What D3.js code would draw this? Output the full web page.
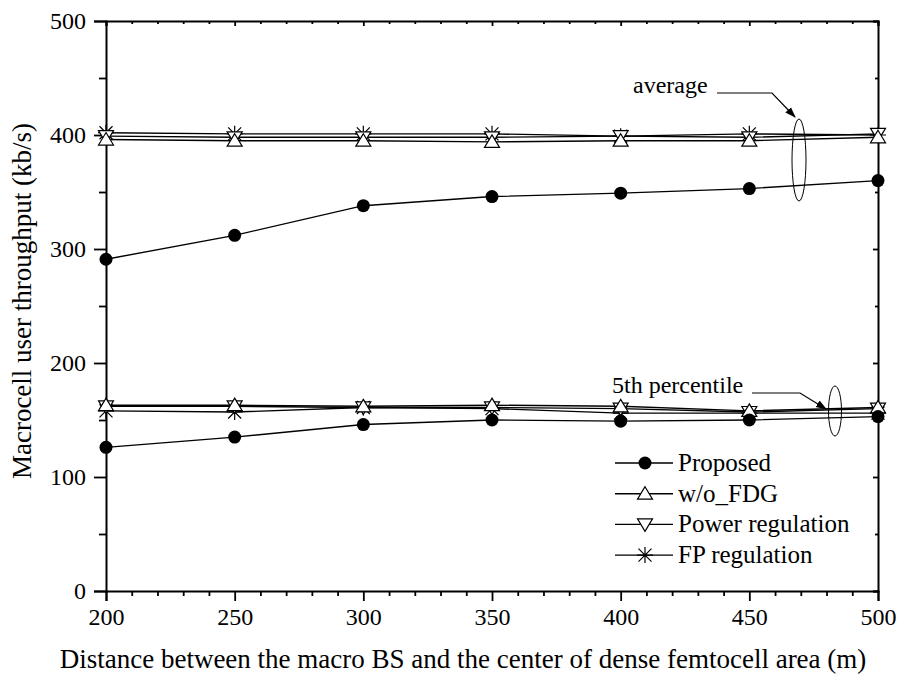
<!DOCTYPE html>
<html>
<head>
<meta charset="utf-8">
<script src="https://cdn.jsdelivr.net/npm/d3@7"></script>
<style>
  body { margin: 0; background: #fff; }
  text { font-family: "Liberation Serif", "Times New Roman", serif; fill: #000; }
</style>
</head>
<body>
<div id="chart"></div>
<script>
// distances (m)
const distances = [200, 250, 300, 350, 400, 450, 500];

// average throughput (kb/s)
const avgProposed = [291, 312, 338, 346, 349, 353, 360];
const avgWoFDG = [396, 395, 395, 394, 395, 395, 398];
const avgPower = [399, 398, 398, 398, 399, 398, 401];
const avgFP = [402, 401, 401, 401, 399, 401, 400];

// 5th percentile throughput (kb/s)
const p5Proposed = [126, 135, 146, 150, 149, 150, 153];
const p5WoFDG = [163, 163, 162, 163, 162, 158, 161];
const p5Power = [162, 162, 161, 161, 160, 157, 160];
const p5FP = [158, 157, 161, 160, 156, 156, 156];

const xTicks = [200, 250, 300, 350, 400, 450, 500];
const yTicks = [0, 100, 200, 300, 400, 500];

const seriesNames = ["Proposed", "w/o_FDG", "Power regulation", "FP regulation"];
const markerKinds = ["circle", "up", "down", "star"];

const margin = { top: 21, right: 34, bottom: 90, left: 106 },
    width = 912 - margin.left - margin.right,
    height = 681 - margin.top - margin.bottom;

const svg = d3.select("#chart").append("svg")
    .attr("width", 912)
    .attr("height", 681)
    .append("g")
    .attr("transform", "translate(" + margin.left + "," + margin.top + ")");

const x = d3.scaleLinear().domain([200, 500]).range([0, width]);
const y = d3.scaleLinear().domain([0, 500]).range([height, 0]);

// minor ticks
const xMinor = d3.range(200, 501, 10).filter(v => v % 50 !== 0);
const yMinor = d3.range(50, 500, 100);

// bottom axis
svg.append("g")
    .attr("transform", "translate(0," + height + ")")
    .call(d3.axisBottom(x).tickValues(xTicks).tickSize(10).tickPadding(7).tickFormat(d3.format("d")));
svg.append("g")
    .attr("transform", "translate(0," + height + ")")
    .call(d3.axisBottom(x).tickValues(xMinor).tickSize(5).tickFormat(""))
    .select(".domain").remove();

// left axis
svg.append("g")
    .call(d3.axisLeft(y).tickValues(yTicks).tickSize(12).tickPadding(8));
svg.append("g")
    .call(d3.axisLeft(y).tickValues(yMinor).tickSize(7).tickFormat(""))
    .select(".domain").remove();

// top and right axes, ticks inward
svg.append("g")
    .call(d3.axisTop(x).tickValues(xTicks).tickSize(-5).tickFormat(""));
svg.append("g")
    .call(d3.axisTop(x).tickValues(xMinor).tickSize(-3).tickFormat(""))
    .select(".domain").remove();
svg.append("g")
    .attr("transform", "translate(" + width + ",0)")
    .call(d3.axisRight(y).tickValues(yTicks).tickSize(-5).tickFormat(""));
svg.append("g")
    .attr("transform", "translate(" + width + ",0)")
    .call(d3.axisRight(y).tickValues(yMinor).tickSize(-3).tickFormat(""))
    .select(".domain").remove();

svg.selectAll(".domain").attr("stroke", "#000").attr("stroke-width", 2);
svg.selectAll(".tick line").attr("stroke", "#000").attr("stroke-width", 1.8);
svg.selectAll(".tick text").style("font-size", "24px").style("font-family", "Liberation Serif");

// axis titles
svg.append("text")
    .attr("transform", "rotate(-90)")
    .attr("x", -height / 2 + 5)
    .attr("y", -75)
    .style("text-anchor", "middle")
    .style("font-size", "27px")
    .text("Macrocell user throughput (kb/s)");

svg.append("text")
    .attr("x", width / 2 - 29)
    .attr("y", height + 77)
    .style("text-anchor", "middle")
    .style("font-size", "27px")
    .text("Distance between the macro BS and the center of dense femtocell area (m)");

// marker drawing
function drawMarker(g, kind, cx, cy) {
    if (kind === "circle") {
        g.append("circle").attr("cx", cx).attr("cy", cy).attr("r", 6.5).attr("fill", "#000");
    } else if (kind === "up") {
        g.append("path")
            .attr("d", `M${cx},${cy - 7}L${cx + 7.5},${cy + 5.5}L${cx - 7.5},${cy + 5.5}Z`)
            .attr("fill", "#fff").attr("stroke", "#000").attr("stroke-width", 1.2);
    } else if (kind === "down") {
        g.append("path")
            .attr("d", `M${cx},${cy + 7}L${cx + 7.5},${cy - 5.5}L${cx - 7.5},${cy - 5.5}Z`)
            .attr("fill", "#fff").attr("stroke", "#000").attr("stroke-width", 1.2);
    } else {
        g.append("path")
            .attr("d", `M${cx},${cy - 8}L${cx},${cy + 8}M${cx - 6.5},${cy - 6.5}L${cx + 6.5},${cy + 6.5}M${cx - 6.5},${cy + 6.5}L${cx + 6.5},${cy - 6.5}M${cx - 8},${cy}L${cx + 8},${cy}`)
            .attr("fill", "none").attr("stroke", "#000").attr("stroke-width", 1.2);
    }
}

const line = d3.line()
    .x((d, i) => x(distances[i]))
    .y(d => y(d));

const groups = [
    [avgProposed, avgWoFDG, avgPower, avgFP],
    [p5Proposed, p5WoFDG, p5Power, p5FP]
];

groups.forEach(set => {
    set.forEach(values => {
        svg.append("path")
            .datum(values)
            .attr("d", line)
            .attr("fill", "none")
            .attr("stroke", "#000")
            .attr("stroke-width", 1.4);
    });
});

// markers drawn in reverse so circles stay on top
groups.forEach(set => {
    [3, 2, 1, 0].forEach(k => {
        const g = svg.append("g");
        set[k].forEach((v, i) => drawMarker(g, markerKinds[k], x(distances[i]), y(v)));
    });
});

// annotations (page coordinates)
const ann = d3.select("#chart svg").append("g");
const defs = d3.select("#chart svg").append("defs");
defs.append("marker")
    .attr("id", "arrow")
    .attr("viewBox", "0 0 10 10")
    .attr("refX", 9).attr("refY", 5)
    .attr("markerWidth", 11).attr("markerHeight", 11)
    .attr("markerUnits", "userSpaceOnUse")
    .attr("orient", "auto")
    .append("path").attr("d", "M0,1.5L10,5L0,8.5Z").attr("fill", "#000");

ann.append("text").attr("x", 633).attr("y", 93).style("font-size", "24px").text("average");
ann.append("path")
    .attr("d", "M717,93L772,93L795,117")
    .attr("fill", "none").attr("stroke", "#000").attr("stroke-width", 1.2)
    .attr("marker-end", "url(#arrow)");
ann.append("ellipse")
    .attr("cx", 799).attr("cy", 160).attr("rx", 7).attr("ry", 41)
    .attr("fill", "none").attr("stroke", "#000").attr("stroke-width", 1);

ann.append("text").attr("x", 612).attr("y", 393).style("font-size", "24px").text("5th percentile");
ann.append("path")
    .attr("d", "M752,393L800,393L826,409")
    .attr("fill", "none").attr("stroke", "#000").attr("stroke-width", 1.2)
    .attr("marker-end", "url(#arrow)");
ann.append("ellipse")
    .attr("cx", 835).attr("cy", 411).attr("rx", 6.5).attr("ry", 25)
    .attr("fill", "none").attr("stroke", "#000").attr("stroke-width", 1);

// legend
const legend = ann.append("g").attr("class", "legend");
seriesNames.forEach((name, i) => {
    const ly = 463 + i * 30.7;
    legend.append("line")
        .attr("x1", 615).attr("x2", 673).attr("y1", ly).attr("y2", ly)
        .attr("stroke", "#000").attr("stroke-width", 1.4);
    drawMarker(legend, markerKinds[i], 645, ly);
    legend.append("text")
        .attr("x", 678).attr("y", ly + 8)
        .style("font-size", "25px")
        .text(name);
});
</script>
</body>
</html>
